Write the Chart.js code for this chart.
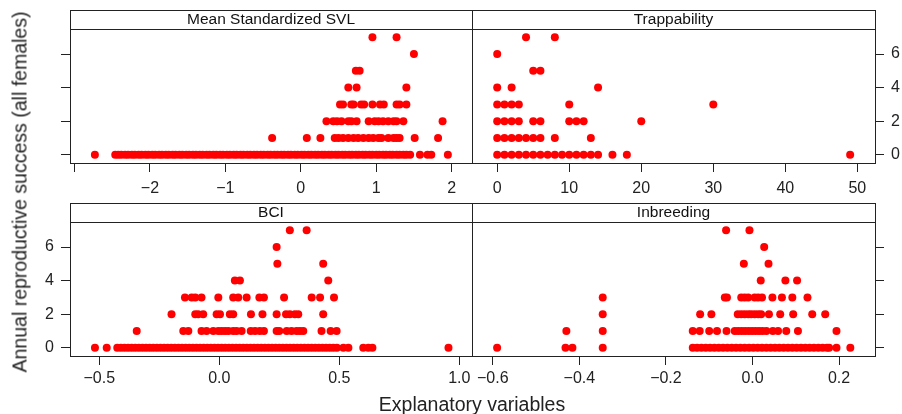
<!DOCTYPE html>
<html><head><meta charset="utf-8">
<script src="https://cdn.jsdelivr.net/npm/chart.js@4"></script>
<style>
html,body{margin:0;padding:0;background:#fff;}
#wrap{position:relative;width:902px;height:414px;overflow:hidden;font-family:"Liberation Sans",Arial,sans-serif;color:#222;}
canvas.p{position:absolute;left:0;top:0;}
.yt{position:absolute;left:20px;top:192px;transform:translate(-50%,-50%) rotate(-90deg);white-space:nowrap;font-size:19.5px;}
.xt{position:absolute;left:472px;top:404px;transform:translate(-50%,-50%);white-space:nowrap;font-size:19.5px;}
</style></head>
<body><div id="wrap">
<canvas id="c0" class="p" width="902" height="414"></canvas>
<canvas id="c1" class="p" width="902" height="414"></canvas>
<canvas id="c2" class="p" width="902" height="414"></canvas>
<canvas id="c3" class="p" width="902" height="414"></canvas>
<div class="yt">Annual reproductive success (all females)</div>
<div class="xt">Explanatory variables</div>
</div>
<script>
// ---- data: x values grouped by annual reproductive success (index = y value) ----
const svlByLevel = [
  [-2.73,-2.46,-2.42,-2.38,-2.33,-2.29,-2.24,-2.2,-2.15,-2.11,-2.06,-2.02,-1.97,-1.93,-1.88,-1.84,-1.79,-1.75,-1.7,-1.66,-1.61,-1.57,-1.52,-1.48,-1.43,-1.39,-1.34,-1.3,-1.25,-1.21,-1.16,-1.12,-1.07,-1.03,-0.98,-0.94,-0.89,-0.85,-0.8,-0.76,-0.71,-0.67,-0.62,-0.58,-0.53,-0.49,-0.44,-0.4,-0.35,-0.31,-0.26,-0.22,-0.17,-0.13,-0.08,-0.04,0.01,0.05,0.1,0.14,0.19,0.23,0.28,0.32,0.37,0.41,0.46,0.5,0.55,0.59,0.64,0.68,0.73,0.77,0.82,0.86,0.91,0.95,1.0,1.04,1.09,1.13,1.18,1.22,1.27,1.31,1.36,1.4,1.45,1.58,1.68,1.73,1.95],
  [-0.38,0.08,0.26,0.45,0.5,0.56,0.63,0.7,0.76,0.83,0.9,0.96,1.03,1.07,1.16,1.23,1.27,1.31,1.51,1.82],
  [0.34,0.43,0.48,0.54,0.63,0.67,0.74,0.9,0.98,1.03,1.09,1.16,1.23,1.27,1.36,1.88],
  [0.52,0.56,0.67,0.7,0.8,0.84,0.95,1.05,1.1,1.27,1.31,1.4],
  [0.63,0.74,1.4],
  [0.73,0.78],
  [1.5],
  [0.95,1.27]
];
const trapByLevel = [
  [0,1,2,3,4,5,6,7,8,9,10,11,12,13,14,16,18,49],
  [0,1,2,3,4,5,6,8,13],
  [0,1,2,3,5,6,10,11,12,20],
  [0,1,2,3,10,30],
  [0,2,14],
  [5,6],
  [0],
  [4,8]
];
const bciByLevel = [
  [-0.518,-0.469,-0.425,-0.41,-0.395,-0.38,-0.365,-0.35,-0.335,-0.32,-0.305,-0.29,-0.275,-0.26,-0.245,-0.23,-0.215,-0.2,-0.185,-0.17,-0.155,-0.14,-0.125,-0.11,-0.095,-0.08,-0.065,-0.05,-0.035,-0.02,-0.005,0.01,0.025,0.04,0.055,0.07,0.085,0.1,0.115,0.13,0.145,0.16,0.175,0.19,0.205,0.22,0.235,0.25,0.265,0.28,0.295,0.31,0.325,0.34,0.355,0.37,0.385,0.4,0.415,0.43,0.445,0.46,0.475,0.49,0.517,0.538,0.6,0.621,0.638,0.955],
  [-0.344,-0.15,-0.129,-0.074,-0.053,-0.025,-0.004,0.01,0.024,0.038,0.058,0.072,0.093,0.131,0.149,0.169,0.186,0.239,0.25,0.281,0.301,0.322,0.336,0.35,0.426,0.464,0.489],
  [-0.199,-0.1,-0.088,-0.067,-0.011,0.003,0.044,0.058,0.132,0.18,0.239,0.278,0.294,0.315,0.329,0.433],
  [-0.143,-0.115,-0.1,-0.074,-0.004,0.058,0.079,0.114,0.167,0.186,0.27,0.385,0.42,0.478],
  [0.065,0.086,0.454],
  [0.242,0.433],
  [0.239],
  [0.294,0.364]
];
const inbByLevel = [
  [-0.59,-0.432,-0.416,-0.346,-0.138,-0.128,-0.118,-0.108,-0.098,-0.088,-0.078,-0.068,-0.058,-0.048,-0.038,-0.028,-0.018,-0.008,0.002,0.012,0.022,0.032,0.042,0.052,0.062,0.072,0.082,0.092,0.102,0.112,0.122,0.132,0.142,0.152,0.162,0.172,0.177,0.194,0.226],
  [-0.43,-0.346,-0.138,-0.122,-0.1,-0.082,-0.06,-0.041,-0.033,-0.025,-0.017,-0.009,-0.001,0.007,0.015,0.023,0.032,0.047,0.059,0.078,0.105,0.194],
  [-0.346,-0.121,-0.095,-0.034,-0.026,-0.018,-0.01,-0.003,0.005,0.013,0.02,0.038,0.064,0.094,0.138,0.168],
  [-0.346,-0.064,-0.059,-0.026,-0.018,-0.01,0.005,0.013,0.022,0.046,0.068,0.092,0.127],
  [0.019,0.076,0.103],
  [-0.02,0.037],
  [0.027],
  [-0.061,-0.007]
];
const panelTitles = ['Mean Standardized SVL','Trappability','BCI','Inbreeding'];
const svlTicks = [-3,-2,-1,0,1,2];
const svlTickLabels = ['','\u22122','\u22121','0','1','2'];
const trapTicks = [0,10,20,30,40,50];
const trapTickLabels = ['0','10','20','30','40','50'];
const bciTicks = [-0.5,0,0.5,1];
const bciTickLabels = ['\u22120.5','0.0','0.5','1.0'];
const inbTicks = [-0.6,-0.4,-0.2,0,0.2];
const inbTickLabels = ['\u22120.6','\u22120.4','\u22120.2','0.0','0.2'];
const yTicks = [0,2,4,6];
const yTickLabels = ['0','2','4','6'];

// ---- layout / style ----
Chart.defaults.font.family = '"Liberation Sans", Arial, sans-serif';
Chart.defaults.font.size = 16;
Chart.defaults.color = '#222';
const LINE = '#222';
const STRIP_H = 19;

const panels = [
  {canvas:'c0', title:panelTitles[0], rows:svlByLevel, xMin:-3.06, xMax:2.27, ticks:svlTicks, labels:svlTickLabels, area:{l:70,r:472,t:29,b:163}, xPad:7, ySide:'left', yLabels:false},
  {canvas:'c1', title:panelTitles[1], rows:trapByLevel, xMin:-3.5, xMax:52.45, ticks:trapTicks, labels:trapTickLabels, area:{l:472,r:875,t:29,b:163}, xPad:7, ySide:'right', yLabels:true},
  {canvas:'c2', title:panelTitles[2], rows:bciByLevel, xMin:-0.622, xMax:1.053, ticks:bciTicks, labels:bciTickLabels, area:{l:70,r:472,t:222,b:356}, xPad:4, ySide:'left', yLabels:true},
  {canvas:'c3', title:panelTitles[3], rows:inbByLevel, xMin:-0.648, xMax:0.283, ticks:inbTicks, labels:inbTickLabels, area:{l:472,r:875,t:222,b:356}, xPad:4, ySide:'right', yLabels:false}
];

const framePlugin = {
  id:'frame',
  afterDraw(chart, args, opts){
    const a = chart.chartArea, ctx = chart.ctx;
    const l = Math.round(a.left)+0.5, r = Math.round(a.right)+0.5;
    const t = Math.round(a.top)+0.5, b = Math.round(a.bottom)+0.5;
    ctx.save();
    ctx.strokeStyle = LINE; ctx.lineWidth = 1;
    ctx.strokeRect(l, t-STRIP_H, r-l, b-t+STRIP_H);
    ctx.beginPath(); ctx.moveTo(l,t); ctx.lineTo(r,t); ctx.stroke();
    ctx.fillStyle = '#111';
    ctx.font = '15.5px "Liberation Sans", Arial, sans-serif';
    ctx.textAlign = 'center'; ctx.textBaseline = 'middle';
    ctx.fillText(opts.title, (a.left+a.right)/2, a.top-STRIP_H/2+0.5);
    ctx.restore();
  }
};

const YW_L = 50, YW_R = 27, XH = 40, W = 902, H = 414;
panels.forEach(p => {
  const data = [];
  p.rows.forEach((xs, level) => xs.forEach(x => data.push({x:x, y:level})));
  const A = p.area;
  const yw = p.ySide === 'left' ? YW_L : YW_R;
  const pad = {
    top: A.t,
    bottom: H - A.b - XH,
    left: p.ySide === 'left' ? A.l - yw : A.l,
    right: p.ySide === 'right' ? W - A.r - yw : W - A.r
  };
  new Chart(document.getElementById(p.canvas), {
    type:'scatter',
    data:{datasets:[{data:data, backgroundColor:'#ff0000', borderWidth:0, pointRadius:4, pointHoverRadius:4}]},
    options:{
      responsive:false, animation:false, events:[],
      layout:{padding:pad},
      plugins:{legend:{display:false}, tooltip:{enabled:false}, frame:{title:p.title}},
      scales:{
        x:{type:'linear', position:'bottom', min:p.xMin, max:p.xMax,
           afterBuildTicks: s => { s.ticks = p.ticks.map(v => ({value:v})); },
           afterFit: s => { s.height = XH; },
           ticks:{autoSkip:false, maxRotation:0, padding:p.xPad,
                  callback:(v, i) => p.labels[i]},
           grid:{drawOnChartArea:false, drawTicks:true, tickLength:9, color:LINE, lineWidth:1},
           border:{display:false}},
        y:{type:'linear', position:p.ySide, min:-0.49, max:7.49,
           afterBuildTicks: s => { s.ticks = yTicks.map(v => ({value:v})); },
           afterFit: s => { s.width = yw; },
           ticks:{autoSkip:false, padding:7,
                  callback:(v, i) => p.yLabels ? yTickLabels[i] : ''},
           grid:{drawOnChartArea:false, drawTicks:true, tickLength:9, color:LINE, lineWidth:1},
           border:{display:false}}
      }
    },
    plugins:[framePlugin]
  });
});
</script>
</body></html>
